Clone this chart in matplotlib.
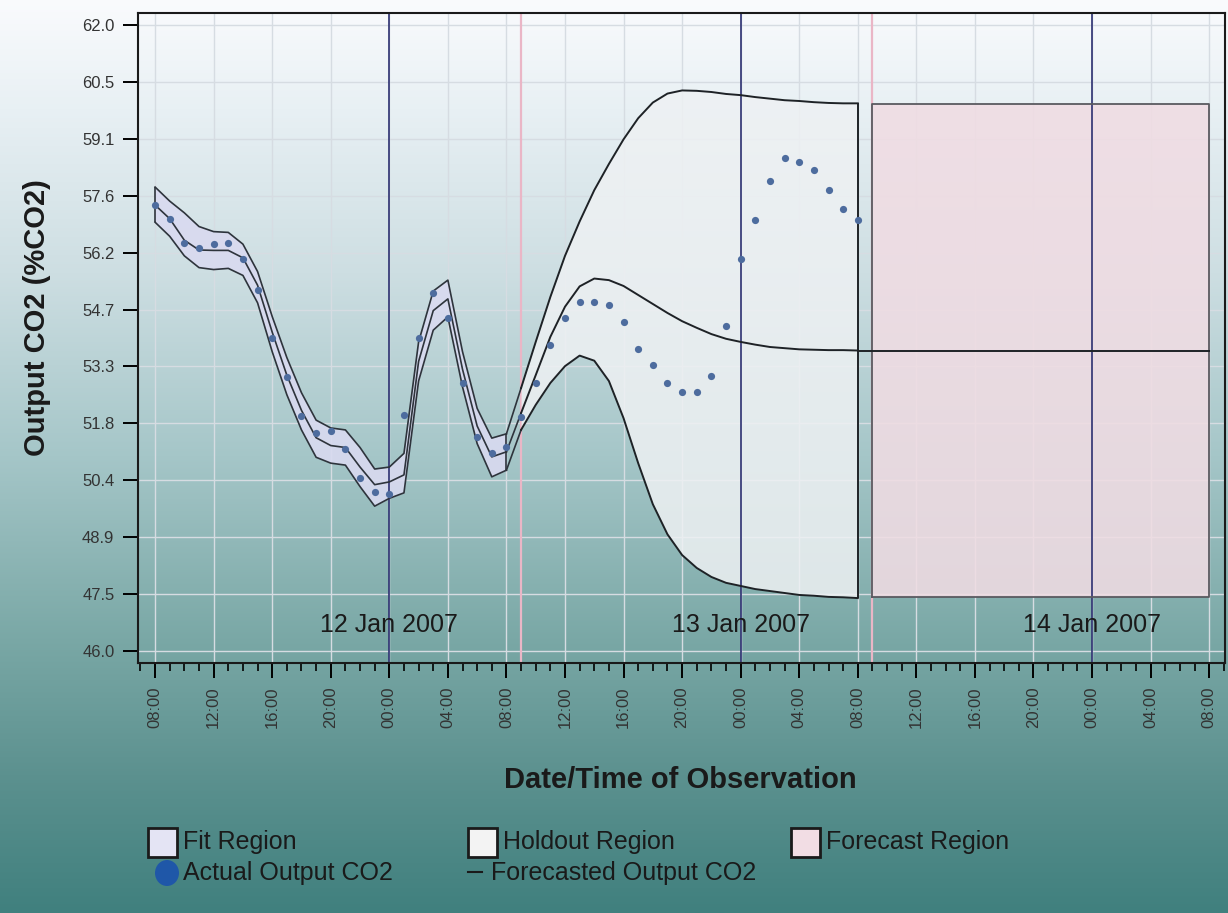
import matplotlib
matplotlib.use("Agg")
import matplotlib.pyplot as plt
import matplotlib.dates as mdates
from matplotlib.patches import Rectangle, Ellipse
from matplotlib.lines import Line2D
import numpy as np
import pandas as pd

plt.rcParams['font.family'] = ['Liberation Sans', 'DejaVu Sans']

# hourly observations, 08:00 11 Jan 2007 .. 08:00 13 Jan 2007
obs_times = pd.date_range("2007-01-11 08:00", periods=49, freq="h")
actual_co2 = [57.40, 57.04, 56.43, 56.30, 56.40, 56.43, 56.02, 55.23, 54.00, 53.00,
              52.00, 51.57, 51.62, 51.16, 50.42, 50.06, 50.01, 52.03, 54.00, 55.15,
              54.51, 52.85, 51.47, 51.06, 51.21, 51.98, 52.85, 53.82, 54.51, 54.92,
              54.92, 54.84, 54.41, 53.72, 53.31, 52.85, 52.62, 52.62, 53.03, 54.31,
              56.02, 57.02, 58.01, 58.60, 58.50, 58.29, 57.78, 57.30, 57.02]

# fit region (first 25 hours)
fit_upper = [57.86, 57.50, 57.20, 56.85, 56.72, 56.70, 56.40, 55.70, 54.55, 53.50,
             52.60, 51.90, 51.70, 51.65, 51.20, 50.65, 50.70, 51.05, 53.90, 55.20,
             55.48, 53.65, 52.20, 51.44, 51.55]
fit_mean = [57.40, 57.05, 56.50, 56.25, 56.24, 56.24, 56.05, 55.35, 54.15, 53.05,
            52.15, 51.45, 51.25, 51.20, 50.70, 50.25, 50.32, 50.50, 53.40, 54.70,
            55.00, 53.20, 51.75, 50.96, 51.09]
fit_lower = [56.96, 56.60, 56.10, 55.80, 55.75, 55.78, 55.60, 54.90, 53.65, 52.55,
             51.65, 50.95, 50.80, 50.75, 50.20, 49.70, 49.90, 50.04, 52.90, 54.20,
             54.54, 52.75, 51.30, 50.45, 50.62]

# holdout region (09:00 12 Jan .. 08:00 13 Jan)
holdout_upper = [52.72, 53.90, 55.05, 56.10, 56.98, 57.78, 58.45, 59.08, 59.62, 60.02,
                 60.25, 60.33, 60.32, 60.29, 60.24, 60.21, 60.16, 60.12, 60.08, 60.06,
                 60.03, 60.01, 60.00, 60.00]
holdout_mean = [52.08, 53.05, 54.03, 54.80, 55.32, 55.52, 55.48, 55.33, 55.10, 54.87,
                54.64, 54.43, 54.26, 54.10, 53.98, 53.90, 53.83, 53.77, 53.74, 53.71,
                53.70, 53.69, 53.69, 53.68]
holdout_lower = [51.65, 52.29, 52.85, 53.28, 53.55, 53.42, 52.90, 51.95, 50.80, 49.75,
                 48.98, 48.45, 48.12, 47.89, 47.74, 47.66, 47.58, 47.53, 47.48, 47.43,
                 47.41, 47.38, 47.37, 47.35]

# forecast region (09:00 13 Jan .. 08:00 14 Jan)
forecast_times = pd.to_datetime(["2007-01-13 09:00", "2007-01-14 08:00"])
forecast_upper = [59.98, 59.98]
forecast_mean = [53.68, 53.68]
forecast_lower = [47.37, 47.37]

day_labels = ["12 Jan 2007", "13 Jan 2007", "14 Jan 2007"]
day_starts = pd.to_datetime(["2007-01-12", "2007-01-13", "2007-01-14"])
region_starts = pd.to_datetime(["2007-01-12 09:00", "2007-01-13 09:00"])

fit_times = obs_times[:25]
holdout_times = obs_times[25:]

W, H = 1228, 913
fig = plt.figure(figsize=(W / 100, H / 100), dpi=100)

def fx(x):
    return x / W

def fy(y):
    return 1 - y / H

# background gradient, light at the top, teal at the bottom
bg = fig.add_axes([0, 0, 1, 1], zorder=-10)
stops = [0.0, 0.12, 0.3, 0.5, 0.7, 0.85, 1.0]
reds = [250, 232, 205, 165, 122, 92, 64]
greens = [251, 240, 222, 198, 168, 145, 128]
blues = [253, 244, 226, 200, 166, 143, 126]
t = np.linspace(0, 1, 400)
grad = np.stack([np.interp(t, stops, reds), np.interp(t, stops, greens),
                 np.interp(t, stops, blues)], axis=-1)[:, None, :] / 255.0
bg.imshow(grad, aspect="auto", extent=[0, 1, 0, 1])
bg.axis("off")

ax = fig.add_axes([fx(138), fy(663), fx(1225 - 138), (663 - 13) / H])
ax.patch.set_alpha(0)
ax.set_axisbelow(True)

# grid + reference lines
ax.grid(True, which="major", color="#d6dce2", lw=1.0)
for r in region_starts:
    ax.axvline(r, color="#eab6c6", lw=1.6, zorder=1)
for d in day_starts:
    ax.axvline(d, color="#2c3070", lw=1.2, zorder=3)

band_line = dict(color="#2e343c", lw=1.2, zorder=4)

# fit region
ax.fill_between(fit_times, fit_lower, fit_upper, color="#d9daf0", alpha=0.9, lw=0, zorder=2)
ax.plot(fit_times, fit_upper, **band_line)
ax.plot(fit_times, fit_mean, **band_line)
ax.plot(fit_times, fit_lower, **band_line)
ax.vlines([fit_times[0], fit_times[-1]], [fit_lower[0], fit_lower[-1]],
          [fit_upper[0], fit_upper[-1]], **band_line)

# holdout region
ax.fill_between(holdout_times, holdout_lower, holdout_upper, color="#eef1f3", alpha=0.85,
                lw=0, zorder=2)
for vals_f, vals_h in [(fit_upper, holdout_upper), (fit_mean, holdout_mean),
                       (fit_lower, holdout_lower)]:
    ax.plot([fit_times[-1], holdout_times[0]], [vals_f[-1], vals_h[0]], **band_line)
ax.plot(holdout_times, holdout_upper, color="#1e2226", lw=1.4, zorder=4)
ax.plot(holdout_times, holdout_mean, color="#1e2226", lw=1.4, zorder=4)
ax.plot(holdout_times, holdout_lower, color="#1e2226", lw=1.4, zorder=4)
ax.vlines(holdout_times[-1], holdout_lower[-1], holdout_upper[-1], color="#1e2226", lw=1.4,
          zorder=4)

# forecast region
ax.fill_between(forecast_times, forecast_lower, forecast_upper, color="#f0dce3", alpha=0.88,
                lw=0, zorder=2)
ax.plot([forecast_times[0], forecast_times[1], forecast_times[1], forecast_times[0],
         forecast_times[0]],
        [forecast_lower[0], forecast_lower[1], forecast_upper[1], forecast_upper[0],
         forecast_lower[0]], color="#5a5a60", lw=1.3, zorder=4)
ax.plot([holdout_times[-1], forecast_times[1]], [holdout_mean[-1], forecast_mean[1]],
        color="#1e2226", lw=1.4, zorder=4)

# actual observations
ax.plot(obs_times, actual_co2, "o", color="#4d6c9e", ms=5.2, mec="none", zorder=5)

# day labels
for d, lab in zip(day_starts, day_labels):
    ax.text(d, 46.65, lab, ha="center", va="center", fontsize=18, color="#1a1a1a", zorder=6)

# axes
ax.set_ylim(45.69, 62.31)
ax.set_yticks(np.linspace(46, 62, 12))
ax.yaxis.set_major_formatter(matplotlib.ticker.FormatStrFormatter("%.1f"))
ax.set_xlim(obs_times[0] - pd.Timedelta(minutes=70), pd.Timestamp("2007-01-14 09:05"))
ax.xaxis.set_major_locator(mdates.HourLocator(byhour=[0, 4, 8, 12, 16, 20]))
ax.xaxis.set_minor_locator(mdates.HourLocator())
ax.xaxis.set_major_formatter(mdates.DateFormatter("%H:%M"))
ax.tick_params(axis="y", length=11, width=1.4, pad=6, labelsize=12, labelcolor="#333333")
ax.tick_params(axis="x", which="major", length=11, width=1.4, pad=6, labelsize=12,
               labelcolor="#333333", labelrotation=90)
ax.tick_params(axis="x", which="minor", length=6, width=1.2)
for s in ax.spines.values():
    s.set_color("#1a1a1a")
    s.set_linewidth(1.5)
    s.set_zorder(6)

fig.text(fx(680), fy(780), "Date/Time of Observation", ha="center", va="center",
         fontsize=21, fontweight="bold", color="#1a1a1a")
fig.text(fx(37), fy(318), "Output CO2 (%CO2)", ha="center", va="center", rotation=90,
         fontsize=21, fontweight="bold", color="#1a1a1a")

# legend
legend_boxes = [("Fit Region", "#e4e4f4", 148), ("Holdout Region", "#f3f3f3", 468),
                ("Forecast Region", "#f2dde4", 791)]
for lab, col, x0 in legend_boxes:
    fig.patches.append(Rectangle((fx(x0), fy(857)), fx(29), 29 / H, facecolor=col,
                                 edgecolor="#1a1a1a", lw=2, transform=fig.transFigure))
    fig.text(fx(x0 + 35), fy(842), lab, ha="left", va="center", fontsize=18, color="#1a1a1a")
fig.patches.append(Ellipse((fx(167), fy(873)), fx(24), 26 / H, facecolor="#1f57a8",
                           edgecolor="none", transform=fig.transFigure))
fig.text(fx(183), fy(873), "Actual Output CO2", ha="left", va="center", fontsize=18,
         color="#1a1a1a")
fig.lines.append(Line2D([fx(468), fx(482)], [fy(872), fy(872)], color="#1a1a1a", lw=1.5,
                        transform=fig.transFigure))
fig.text(fx(491), fy(873), "Forecasted Output CO2", ha="left", va="center", fontsize=18,
         color="#1a1a1a")

fig.savefig("out.png", dpi=100)
